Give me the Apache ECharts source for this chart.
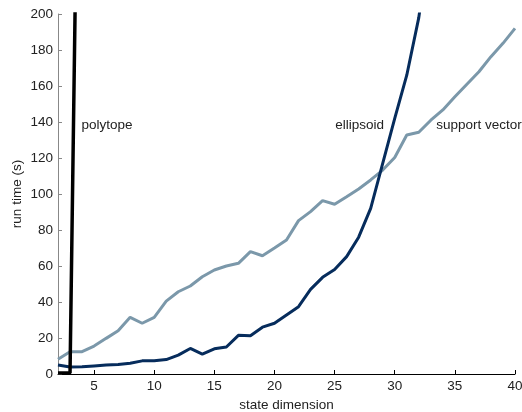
<!DOCTYPE html>
<html>
<head>
<meta charset="utf-8">
<script src="https://cdn.jsdelivr.net/npm/echarts@6/dist/echarts.min.js"></script>
<style>
  html, body { margin: 0; padding: 0; background: #fff; }
  #main { width: 522px; height: 412px; }
</style>
</head>
<body>
<div id="main"></div>
<script>
  // state dimension
  var dims = [];
  for (var d = 2; d <= 40; d++) dims.push(d);

  // run time (s)
  var polytopeX = [2, 3, 4];
  var polytopeY = [0.5, 0.5, 480];

  var ellipsoidY = [5, 3.9, 4, 4.5, 5, 5.3, 6, 7.3, 7.3, 8, 10.5, 14.2, 11, 14, 15,
    21.5, 21.3, 26, 28.2, 32.8, 37.4, 47, 53.7, 58.1, 65.2, 76, 92, 117, 142, 166, 198, 245];

  var supportY = [8.2, 12.4, 12.4, 15.5, 19.8, 24, 31.5, 28.2, 31.5, 40.5, 45.7, 48.9,
    54, 57.8, 60, 61.5, 68, 65.7, 70, 74.4, 85.2, 90.2, 96.3, 94.3, 98.5, 102.8, 107.8,
    113.3, 120.3, 132.8, 134.3, 141, 146.7, 154, 161, 167.9, 176.3, 183.7, 192];

  var xTicks = [5, 10, 15, 20, 25, 30, 35, 40];

  // label anchor points (data space)
  var labels = [
    { name: 'polytope', coord: [3.95, 138] },
    { name: 'ellipsoid', coord: [25.05, 138] },
    { name: 'support vector', coord: [33.45, 138] }
  ];

  function pairs(xs, ys) {
    var out = [];
    for (var i = 0; i < ys.length; i++) out.push([xs[i], ys[i]]);
    return out;
  }

  var chart = echarts.init(document.getElementById('main'));
  var font = 'Liberation Sans, Arial, sans-serif';
  var fs = 13.5;

  var option = {
    animation: false,
    grid: { left: 58, right: 7, top: 14, bottom: 38, outerBoundsMode: 'none', containLabel: false },
    xAxis: {
      type: 'value',
      min: 2,
      max: 40,
      name: 'state dimension',
      nameLocation: 'middle',
      nameGap: 21,
      nameTextStyle: { color: '#222', fontSize: fs, fontFamily: font },
      axisLine: { show: true, onZero: false, lineStyle: { color: '#000', width: 1 } },
      axisTick: { show: true, inside: true, length: 4, lineStyle: { color: '#000' },
        customValues: xTicks },
      axisLabel: { color: '#222', fontSize: fs, fontFamily: font, margin: 5,
        customValues: xTicks },
      splitLine: { show: false }
    },
    yAxis: {
      type: 'value',
      min: 0,
      max: 200,
      interval: 20,
      name: 'run time (s)',
      nameLocation: 'middle',
      nameGap: 34,
      nameMoveOverlap: false,
      nameTextStyle: { color: '#222', fontSize: fs, fontFamily: font },
      axisLine: { show: true, lineStyle: { color: '#888', width: 1 } },
      axisTick: { show: true, inside: true, length: 4, lineStyle: { color: '#888' } },
      axisLabel: { color: '#222', fontSize: fs, fontFamily: font, margin: 5 },
      splitLine: { show: false }
    },
    series: [
      {
        name: 'support vector',
        type: 'line',
        data: pairs(dims, supportY),
        showSymbol: false,
        clip: true,
        lineStyle: { color: '#7b98aa', width: 3 },
        markPoint: {
          symbolSize: 0,
          label: { show: true, position: 'right', distance: 0, color: '#222',
            fontSize: fs, fontFamily: font, formatter: '{b}' },
          data: labels
        }
      },
      {
        name: 'ellipsoid',
        type: 'line',
        data: pairs(dims, ellipsoidY),
        showSymbol: false,
        clip: true,
        lineStyle: { color: '#062c5c', width: 3 }
      },
      {
        name: 'polytope',
        type: 'line',
        data: pairs(polytopeX, polytopeY),
        showSymbol: false,
        clip: true,
        lineStyle: { color: '#000', width: 3.5 }
      }
    ]
  };

  chart.setOption(option);
</script>
</body>
</html>
